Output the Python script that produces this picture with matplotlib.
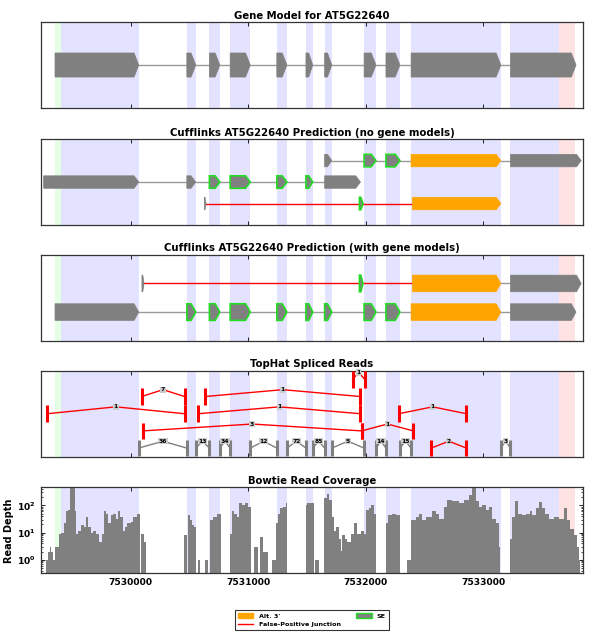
import numpy as np
import matplotlib
matplotlib.use('Agg')
import matplotlib.pyplot as plt
from matplotlib.patches import Polygon, Patch
from matplotlib.lines import Line2D

plt.rcParams['font.family'] = ['DejaVu Sans']
plt.rcParams['font.weight'] = 'bold'
plt.rcParams['axes.titleweight'] = 'bold'
plt.rcParams['axes.labelweight'] = 'bold'
plt.rcParams['mathtext.fontset'] = 'dejavusans'

########## Data ##########

gene_name = 'AT5G22640'
xlim = (7529234, 7533851)
xtick_vals = [7530000, 7531000, 7532000, 7533000]
ytick_vals = [1, 10, 100]
ytick_labels = [r'$\mathbf{10^{0}}$', r'$\mathbf{10^{1}}$', r'$\mathbf{10^{2}}$']

# gene model exons (plus strand)
exon_starts = [7529355, 7530477, 7530669, 7530846, 7531243, 7531491,
               7531650, 7531986, 7532172, 7532386, 7533232]
exon_ends = [7530068, 7530553, 7530758, 7531017, 7531329, 7531549,
             7531711, 7532087, 7532291, 7533150, 7533790]
utr5 = (7529355, 7529410)
utr3 = (7533645, 7533782)

# cufflinks, no gene models: rows from bottom, (start, end, kind)
nogm_row1 = [(7530626, 7530641, 'plain'), (7531946, 7531977, 'se'), (7532398, 7533150, 'alt3')]
nogm_row1_lines = ['red', 'red']
nogm_row2 = [(7529258, 7530068, 'plain'), (7530477, 7530553, 'plain'), (7530669, 7530758, 'se'),
             (7530846, 7531017, 'se'), (7531243, 7531329, 'se'), (7531491, 7531549, 'se'),
             (7531650, 7531955, 'plain')]
nogm_row2_lines = ['gray'] * 6
nogm_row3 = [(7531650, 7531711, 'plain'), (7531986, 7532087, 'se'), (7532172, 7532291, 'se'),
             (7532386, 7533150, 'alt3'), (7533232, 7533834, 'plain')]
nogm_row3_lines = ['gray'] * 4

# cufflinks, with gene models
wgm_row1 = [(7529355, 7530068, 'plain'), (7530477, 7530553, 'se'), (7530669, 7530758, 'se'),
            (7530846, 7531017, 'se'), (7531243, 7531329, 'se'), (7531491, 7531549, 'se'),
            (7531650, 7531711, 'se'), (7531986, 7532087, 'se'), (7532172, 7532291, 'se'),
            (7532386, 7533150, 'alt3'), (7533232, 7533790, 'plain')]
wgm_row1_lines = ['gray'] * 10
wgm_row2 = [(7530095, 7530113, 'plain'), (7531946, 7531977, 'se'), (7532398, 7533150, 'alt3'),
            (7533232, 7533834, 'plain')]
wgm_row2_lines = ['red', 'red', 'gray']

# tophat junctions
junc_start = [7530068, 7530553, 7530758, 7531017, 7531329, 7531549, 7531711, 7532087, 7532291, 7533150,
              7532557, 7530101, 7531965, 7529288, 7530574, 7532282, 7530092, 7530632, 7531888]
junc_end = [7530477, 7530669, 7530846, 7531243, 7531491, 7531650, 7531986, 7532172, 7532386, 7533232,
            7532857, 7531965, 7532405, 7530458, 7531955, 7532857, 7530458, 7531955, 7531992]
junc_count = [36, 13, 34, 12, 72, 85, 5, 14, 15, 3,
              2, 3, 1, 1, 1, 1, 7, 1, 1]
junc_row = [0, 0, 0, 0, 0, 0, 0, 0, 0, 0,
            0, 1, 1, 2, 2, 2, 3, 3, 4]
junc_known = [True] * 10 + [False] * 9

# bowtie coverage: segment edges and depth per segment (0 = no reads)
cov_pos = [7529282, 7529296, 7529310, 7529324, 7529338, 7529352, 7529386, 7529403, 7529431, 7529451,
           7529465, 7529479, 7529521, 7529535, 7529549, 7529577, 7529600, 7529620, 7529639, 7529662,
           7529676, 7529704, 7529732, 7529752, 7529769, 7529789, 7529808, 7529831, 7529845, 7529873,
           7529893, 7529910, 7529930, 7529949, 7529972, 7530000, 7530023, 7530051, 7530079, 7530086,
           7530113, 7530130, 7530456, 7530479, 7530488, 7530507, 7530521, 7530541, 7530558, 7530572,
           7530592, 7530634, 7530654, 7530676, 7530699, 7530732, 7530766, 7530845, 7530859, 7530879,
           7530901, 7530924, 7530944, 7530972, 7531000, 7531020, 7531048, 7531085, 7531099, 7531127,
           7531141, 7531169, 7531206, 7531234, 7531254, 7531273, 7531296, 7531318, 7531330, 7531490,
           7531504, 7531561, 7531569, 7531603, 7531646, 7531666, 7531688, 7531711, 7531731, 7531751,
           7531773, 7531788, 7531802, 7531824, 7531844, 7531873, 7531901, 7531929, 7531958, 7531986,
           7532000, 7532028, 7532042, 7532071, 7532091, 7532170, 7532193, 7532221, 7532255, 7532289,
           7532354, 7532382, 7532425, 7532453, 7532482, 7532510, 7532567, 7532595, 7532623, 7532666,
           7532694, 7532737, 7532793, 7532836, 7532878, 7532907, 7532935, 7532963, 7532992, 7533020,
           7533048, 7533077, 7533105, 7533133, 7533147, 7533224, 7533241, 7533269, 7533297, 7533326,
           7533360, 7533394, 7533416, 7533445, 7533473, 7533501, 7533530, 7533558, 7533601, 7533643,
           7533686, 7533714, 7533742, 7533771, 7533799, 7533813, 7533827]
cov_depth = [1, 2, 3, 2, 1, 3, 9, 10, 22, 60,
             70, 500, 60, 9, 12, 19, 16, 38, 16, 10,
             12, 9, 4.5, 9, 60, 50, 22, 45, 50, 33,
             65, 38, 12, 16, 22, 25, 38, 50, 0, 9,
             4.5, 0, 8.5, 0, 45, 30, 19, 16, 0, 1,
             0, 1, 0, 30, 38, 50, 0, 9, 60, 50,
             38, 120, 100, 120, 90, 0, 3, 0, 7, 2,
             2, 0, 1, 22, 50, 80, 90, 120, 0, 100,
             120, 0, 1, 0, 190, 270, 160, 38, 12, 16,
             6, 2.2, 8, 6, 4.5, 9, 23, 9, 12, 9,
             70, 80, 100, 50, 0, 22, 45, 50, 45, 0,
             1, 30, 38, 47, 30, 38, 60, 50, 33, 90,
             160, 140, 120, 160, 250, 600, 140, 90, 100, 70,
             90, 33, 22, 3, 0, 6, 38, 140, 50, 45,
             50, 60, 45, 80, 130, 80, 50, 33, 38, 33,
             80, 30, 14, 8, 3, 1]

########## Drawing helpers ##########

GRAY = '#808080'
SE_EDGE = '#22dd22'
ALT3 = '#ffa500'


def shade_exons(ax):
    ax.axvspan(utr5[0], utr5[1], color='#00ff00', alpha=0.1, lw=0, zorder=0)
    for i in range(len(exon_starts)):
        s, e = exon_starts[i], exon_ends[i]
        if i == 0:
            s = utr5[1]
        if i == len(exon_starts) - 1:
            e = utr3[0]
        ax.axvspan(s, e, color='#0000ff', alpha=0.11, lw=0, zorder=0)
    ax.axvspan(utr3[0], utr3[1], color='#ff0000', alpha=0.11, lw=0, zorder=0)


def draw_exon(ax, s, e, y, h, kind):
    a = min(40, 0.6 * (e - s))
    pts = [(s, y - h / 2), (e - a, y - h / 2), (e, y), (e - a, y + h / 2), (s, y + h / 2)]
    face = ALT3 if kind == 'alt3' else GRAY
    if kind == 'se':
        ax.add_patch(Polygon(pts, closed=True, facecolor=face, edgecolor=SE_EDGE, lw=1.2, zorder=3))
    else:
        ax.add_patch(Polygon(pts, closed=True, facecolor=face, edgecolor=face, lw=0.5, zorder=3))


def draw_transcript(ax, exons, line_colors, y, h=0.58):
    for i in range(len(exons) - 1):
        c = 'red' if line_colors[i] == 'red' else '#999999'
        ax.plot([exons[i][1], exons[i + 1][0]], [y, y], color=c, lw=1.0, zorder=2)
    for s, e, kind in exons:
        draw_exon(ax, s, e, y, h, kind)


def setup_axis(ax, title, show_labels=False):
    ax.set_xlim(*xlim)
    ax.set_xticks(xtick_vals)
    ax.set_xticklabels([str(v) for v in xtick_vals])
    ax.set_title(title, fontsize=7.3, fontweight='bold', pad=2.5)
    ax.tick_params(axis='x', direction='in', top=True, bottom=True, length=3, width=0.6,
                   labelbottom=show_labels, labelsize=6.6)
    for sp in ax.spines.values():
        sp.set_linewidth(0.9)
        sp.set_color('#333333')


########## Figure ##########

fig = plt.figure(figsize=(6, 6.34), dpi=100)
left, width, h = 0.068, 0.904, 0.1355
bottoms = [0.8297, 0.6451, 0.4626, 0.2797, 0.0957]
axes = [fig.add_axes([left, b, width, h]) for b in bottoms]

# panel 1: gene model
ax = axes[0]
shade_exons(ax)
gene_exons = [(exon_starts[i], exon_ends[i], 'plain') for i in range(len(exon_starts))]
draw_transcript(ax, gene_exons, ['gray'] * (len(gene_exons) - 1), 1, h=0.56)
ax.set_ylim(0, 2)
ax.set_yticks([])
setup_axis(ax, 'Gene Model for ' + gene_name)

# panel 2: cufflinks no gene models
ax = axes[1]
shade_exons(ax)
draw_transcript(ax, nogm_row1, nogm_row1_lines, 1)
draw_transcript(ax, nogm_row2, nogm_row2_lines, 2)
draw_transcript(ax, nogm_row3, nogm_row3_lines, 3)
ax.set_ylim(0, 4)
ax.set_yticks([])
setup_axis(ax, 'Cufflinks ' + gene_name + ' Prediction (no gene models)')

# panel 3: cufflinks with gene models
ax = axes[2]
shade_exons(ax)
draw_transcript(ax, wgm_row1, wgm_row1_lines, 1)
draw_transcript(ax, wgm_row2, wgm_row2_lines, 2)
ax.set_ylim(0, 3)
ax.set_yticks([])
setup_axis(ax, 'Cufflinks ' + gene_name + ' Prediction (with gene models)')

# panel 4: tophat junctions
ax = axes[3]
shade_exons(ax)
for i in range(len(junc_start)):
    s, e, r = junc_start[i], junc_end[i], junc_row[i]
    c = GRAY if junc_known[i] else 'red'
    mid = (s + e) / 2.0
    ax.plot([s, mid, e], [r + 0.5, r + 0.9, r + 0.5], color=c, lw=1.0, zorder=2)
    ax.plot([s, s], [r + 0.02, r + 0.98], color=c, lw=2.2, solid_capstyle='butt', zorder=3)
    ax.plot([e, e], [r + 0.02, r + 0.98], color=c, lw=2.2, solid_capstyle='butt', zorder=3)
    ax.text(mid, r + 0.9, str(junc_count[i]), fontsize=4.3, fontweight='bold', ha='center', va='center',
            zorder=4, bbox=dict(boxstyle='square,pad=0.1', fc='#cccccc', ec='none'))
ax.set_ylim(0, 5)
ax.set_yticks([])
setup_axis(ax, 'TopHat Spliced Reads')

# panel 5: bowtie coverage
ax = axes[4]
shade_exons(ax)
depth = np.maximum(np.array(cov_depth, dtype=float), 0.01)
ax.stairs(depth, cov_pos, baseline=0.01, fill=True, color=GRAY, lw=0, zorder=2)
ax.set_yscale('log')
ax.set_ylim(0.32, 460)
ax.set_ylabel('Read Depth', fontsize=7, fontweight='bold', labelpad=2)
setup_axis(ax, 'Bowtie Read Coverage', show_labels=True)
ax.set_yticks(ytick_vals)
ax.set_yticklabels(ytick_labels)
ax.tick_params(axis='y', which='both', direction='in', left=True, right=True, labelsize=6.6)
ax.tick_params(axis='y', which='major', length=3, width=0.6)
ax.tick_params(axis='y', which='minor', length=1.5, width=0.5)
for lab in ax.get_xticklabels():
    lab.set_fontweight('bold')

# legend
handles = [Patch(facecolor=ALT3, edgecolor=ALT3),
           Line2D([0], [0], color='red', lw=1.0),
           Patch(facecolor=GRAY, edgecolor=SE_EDGE, lw=1.0)]
labels = ["Alt. 3'", 'False-Positive Junction', 'SE']
leg = fig.legend(handles, labels, loc='upper center', bbox_to_anchor=(0.52, 0.043), ncol=2,
                 fontsize=4.6, frameon=True, fancybox=False, edgecolor='black',
                 handlelength=2.4, handletextpad=0.8, columnspacing=2.5, borderpad=0.5)
leg.get_frame().set_linewidth(0.8)
for t in leg.get_texts():
    t.set_fontweight('bold')

fig.savefig('out.png', dpi=100)
